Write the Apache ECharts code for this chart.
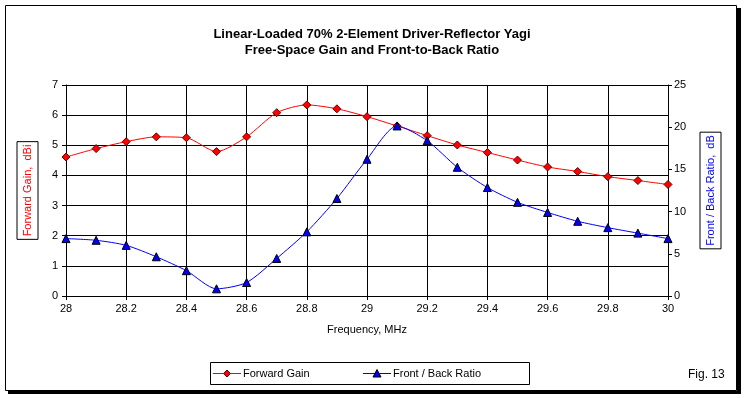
<!DOCTYPE html>
<html>
<head>
<meta charset="utf-8">
<script src="https://cdn.jsdelivr.net/npm/echarts@6/dist/echarts.min.js"></script>
<style>
  html, body { margin: 0; padding: 0; background: #fff; }
  #chart { width: 744px; height: 398px; }
</style>
</head>
<body>
<div id="chart"></div>
<script>
// frequency, MHz
const freq = [28.0, 28.1, 28.2, 28.3, 28.4, 28.5, 28.6, 28.7, 28.8, 28.9, 29.0,
              29.1, 29.2, 29.3, 29.4, 29.5, 29.6, 29.7, 29.8, 29.9, 30.0];
// forward gain, dBi
const gain = [4.61, 4.89, 5.12, 5.28, 5.25, 4.79, 5.28, 6.08, 6.34, 6.21, 5.95,
              5.64, 5.32, 5.01, 4.76, 4.51, 4.28, 4.13, 3.96, 3.83, 3.70];
// front / back ratio, dB
const fb = [6.8, 6.6, 6.0, 4.65, 3.0, 0.85, 1.6, 4.45, 7.6, 11.55, 16.2,
            20.15, 18.4, 15.25, 12.85, 11.1, 9.9, 8.85, 8.1, 7.45, 6.8];

const font = "Arial, 'Liberation Sans', sans-serif";

const chart = echarts.init(document.getElementById("chart"));
chart.setOption({
  backgroundColor: "#fff",
  animation: false,
  textStyle: { fontFamily: font },
  title: {
    text: "Linear-Loaded 70% 2-Element Driver-Reflector Yagi\nFree-Space Gain and Front-to-Back Ratio",
    left: "center",
    top: 21,
    textStyle: { fontSize: 13, fontWeight: "bold", color: "#000", lineHeight: 16, fontFamily: font }
  },
  legend: { show: false },
  grid: { left: 66, right: 76, top: 85, bottom: 102 },
  xAxis: {
    type: "value",
    min: 28,
    max: 30,
    interval: 0.2,
    name: "Frequency, MHz",
    nameLocation: "middle",
    nameGap: 28,
    nameTextStyle: { fontSize: 11, color: "#000" },
    axisLine: { lineStyle: { color: "#000" } },
    axisTick: { show: true, length: 4, lineStyle: { color: "#000" } },
    axisLabel: {
      fontSize: 11, color: "#000", margin: 7,
      formatter: v => String(Math.round(v * 10) / 10)
    },
    splitLine: { show: true, lineStyle: { color: "#000", width: 1 } }
  },
  yAxis: [
    {
      type: "value",
      min: 0,
      max: 7,
      interval: 1,
      name: "Forward Gain,  dBi",
      nameLocation: "middle",
      nameRotate: 90,
      nameGap: 28,
      nameTextStyle: {
        fontSize: 11, color: "#ff0000",
        borderColor: "#000", borderWidth: 1, borderRadius: 0, padding: [5, 3, 5, 3]
      },
      axisLine: { show: true, lineStyle: { color: "#000" } },
      axisTick: { show: true, length: 4, lineStyle: { color: "#000" } },
      axisLabel: { fontSize: 11, color: "#000", margin: 8 },
      splitLine: { show: true, lineStyle: { color: "#000", width: 1 } }
    },
    {
      type: "value",
      min: 0,
      max: 25,
      interval: 5,
      name: "Front / Back Ratio,  dB",
      nameLocation: "middle",
      nameRotate: 90,
      nameGap: 32,
      nameTextStyle: {
        fontSize: 11, color: "#0000ff",
        borderColor: "#000", borderWidth: 1, borderRadius: 0, padding: [5, 3, 5, 3]
      },
      axisLine: { show: true, lineStyle: { color: "#000" } },
      axisTick: { show: true, length: 4, lineStyle: { color: "#000" } },
      axisLabel: { fontSize: 11, color: "#000", margin: 6 },
      splitLine: { show: false }
    }
  ],
  series: [
    {
      name: "Forward Gain",
      type: "line",
      yAxisIndex: 0,
      smooth: 0.25,
      data: freq.map((f, i) => [f, gain[i]]),
      symbol: "diamond",
      symbolSize: 8,
      lineStyle: { color: "#ff0000", width: 1 },
      itemStyle: { color: "#ff0000", borderColor: "#600000", borderWidth: 1 }
    },
    {
      name: "Front / Back Ratio",
      type: "line",
      yAxisIndex: 1,
      smooth: 0.25,
      data: freq.map((f, i) => [f, fb[i]]),
      symbol: "triangle",
      symbolSize: 8,
      lineStyle: { color: "#0000ff", width: 1 },
      itemStyle: { color: "#0000ff", borderColor: "#000", borderWidth: 1 }
    }
  ],
  graphic: [
    // outer frame with shadow
    { type: "rect", shape: { x: 8, y: 391, width: 733, height: 3 }, style: { fill: "#000" }, silent: true },
    { type: "rect", shape: { x: 737, y: 8, width: 4, height: 386 }, style: { fill: "#000" }, silent: true },
    { type: "rect", shape: { x: 5.5, y: 5.5, width: 731, height: 385 }, style: { fill: null, stroke: "#000", lineWidth: 1 }, silent: true },
    // legend box
    { type: "rect", shape: { x: 210.5, y: 362.5, width: 319, height: 22 }, style: { fill: "#fff", stroke: "#000", lineWidth: 1 }, silent: true },
    { type: "line", shape: { x1: 213, y1: 373.5, x2: 241, y2: 373.5 }, style: { stroke: "#ff0000", lineWidth: 1 }, silent: true },
    { type: "polygon", shape: { points: [[227, 370], [230.5, 373.5], [227, 377], [223.5, 373.5]] }, style: { fill: "#ff0000", stroke: "#600000", lineWidth: 1 }, silent: true },
    { type: "text", x: 243, y: 374, style: { text: "Forward Gain", fill: "#000", font: "11px " + font, textVerticalAlign: "middle" }, silent: true },
    { type: "line", shape: { x1: 363, y1: 373.5, x2: 391, y2: 373.5 }, style: { stroke: "#0000ff", lineWidth: 1 }, silent: true },
    { type: "polygon", shape: { points: [[377, 369.5], [381, 377], [373, 377]] }, style: { fill: "#0000ff", stroke: "#000", lineWidth: 1 }, silent: true },
    { type: "text", x: 393, y: 374, style: { text: "Front / Back Ratio", fill: "#000", font: "11px " + font, textVerticalAlign: "middle" }, silent: true },
    // figure number
    { type: "text", x: 688, y: 375, style: { text: "Fig. 13", fill: "#000", font: "12px " + font, textVerticalAlign: "middle" }, silent: true }
  ]
});
</script>
</body>
</html>
